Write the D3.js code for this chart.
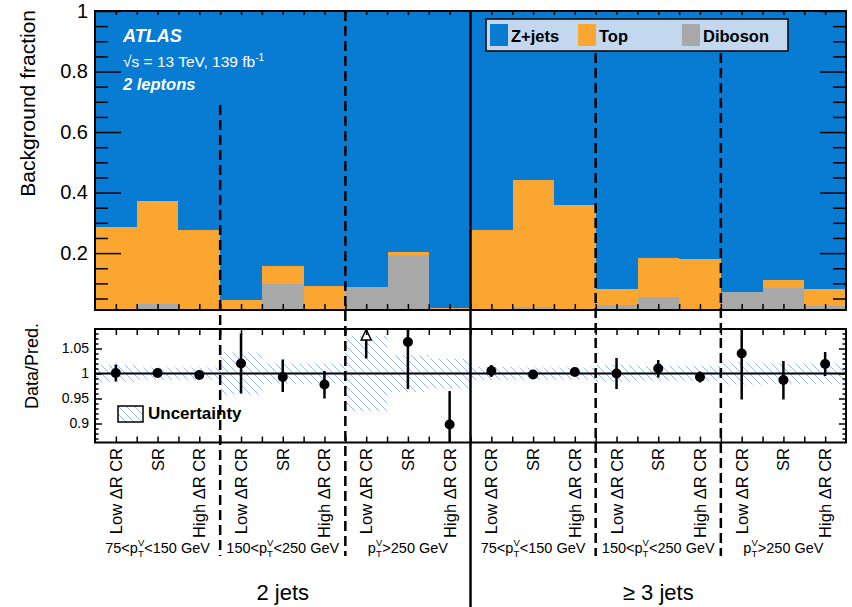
<!DOCTYPE html>
<html>
<head>
<meta charset="utf-8">
<script src="https://cdn.jsdelivr.net/npm/d3@7"></script>
<style>
  html, body { margin: 0; padding: 0; background: #fff; }
  svg { display: block; font-family: "Liberation Sans", Arial, Helvetica, sans-serif; }
</style>
</head>
<body>
<svg id="chart" width="852" height="607"></svg>
<script>
// ---------------- DATA ----------------
const regionLabels = ["Low \u0394R CR", "SR", "High \u0394R CR"];
const ptPrefix = ["75<", "150<", ""];
const ptSuffix = ["<150 GeV", "<250 GeV", ">250 GeV"];
const jetLabels = ["2 jets", "\u2265 3 jets"];
const categories = d3.range(18).map(i => `${jetLabels[Math.floor(i / 9)]} | ${ptPrefix[Math.floor(i / 3) % 3]}pTV${ptSuffix[Math.floor(i / 3) % 3]} | ${regionLabels[i % 3]}`);

// background fractions
const dibosonFrac = [0.008, 0.031, 0.008, 0.008, 0.099, 0.008, 0.087, 0.194, 0.006,
                     0.008, 0.021, 0.009, 0.029, 0.056, 0.009, 0.072, 0.086, 0.026];
const topFrac     = [0.279, 0.341, 0.268, 0.037, 0.060, 0.084, 0.001, 0.009, 0.011,
                     0.267, 0.421, 0.350, 0.053, 0.127, 0.172, 0.001, 0.026, 0.056];
const zjetsFrac = dibosonFrac.map((d, i) => 1 - d - topFrac[i]);

// data / prediction
const ratioVal = [1.001, 1.001, 0.997, 1.020, 0.993, 0.978, 1.120, 1.063, 0.898,
                  1.005, 0.998, 1.003, 1.000, 1.010, 0.993, 1.040, 0.987, 1.019];
const ratioErrUp = [0.017, 0.004, 0.006, 0.060, 0.035, 0.027, 0.000, 0.030, 0.067,
                    0.012, 0.004, 0.004, 0.031, 0.017, 0.011, 0.050, 0.038, 0.024];
const ratioErrDn = [0.017, 0.004, 0.006, 0.060, 0.030, 0.028, 0.090, 0.094, 0.040,
                    0.012, 0.004, 0.004, 0.031, 0.018, 0.011, 0.092, 0.039, 0.024];
const predUnc = [0.017, 0.012, 0.012, 0.042, 0.020, 0.020, 0.075, 0.037, 0.030,
                 0.013, 0.012, 0.012, 0.017, 0.015, 0.015, 0.022, 0.020, 0.020];

const fracTicks = [0.2, 0.4, 0.6, 0.8, 1];
const ratioTicks = [0.9, 0.95, 1, 1.05];

// ---------------- LAYOUT ----------------
const L = 95, R = 846, T1 = 11, B1 = 310, T2 = 329, B2 = 442.5;
const FONT = '"Liberation Sans", Arial, Helvetica, sans-serif';
const col = { zjets: "#087cd2", top: "#fba630", diboson: "#a8a8a8" };

const svg = d3.select("#chart");
const x = d3.scaleLinear().domain([0, 18]).range([L, R]);
const y = d3.scaleLinear().domain([0.012, 1]).range([B1, T1]);
const yr = d3.scaleLinear().domain([0.862, 1.089]).range([B2, T2]);

const defs = svg.append("defs");
defs.append("clipPath").attr("id", "clipTop").append("rect")
  .attr("x", L).attr("y", T1).attr("width", R - L).attr("height", B1 - T1);
defs.append("clipPath").attr("id", "clipRat").append("rect")
  .attr("x", L).attr("y", T2).attr("width", R - L).attr("height", B2 - T2);
const pat = defs.append("pattern").attr("id", "hatch").attr("patternUnits", "userSpaceOnUse")
  .attr("width", 8).attr("height", 8);
pat.append("path").attr("d", "M-2,-2 L10,10 M-2,6 L2,10 M6,-2 L10,2")
  .attr("stroke", "#6e9af4").attr("stroke-width", 0.7).attr("fill", "none");

// ---------------- TOP PANEL ----------------
const table = d3.range(18).map(i => ({ i, diboson: dibosonFrac[i], top: topFrac[i], zjets: zjetsFrac[i] }));
const stack = d3.stack().keys(["diboson", "top", "zjets"])(table);
const gTop = svg.append("g").attr("clip-path", "url(#clipTop)");
gTop.append("rect").attr("x", L).attr("y", T1).attr("width", R - L).attr("height", B1 - T1).attr("fill", col.zjets);
gTop.selectAll("g.layer").data(stack).join("g").attr("class", "layer")
  .attr("fill", d => col[d.key])
  .selectAll("rect").data(d => d).join("rect")
  .attr("shape-rendering", "crispEdges")
  .attr("x", d => x(d.data.i))
  .attr("width", d => x(d.data.i + 1) - x(d.data.i) + 0.5)
  .attr("y", d => y(d[1]))
  .attr("height", d => Math.max(0, y(d[0]) - y(d[1])));

// ---------------- RATIO PANEL ----------------
const gRat = svg.append("g").attr("clip-path", "url(#clipRat)");
gRat.selectAll("rect.band").data(predUnc).join("rect").attr("class", "band")
  .attr("x", (d, i) => x(i)).attr("width", (d, i) => x(i + 1) - x(i))
  .attr("y", d => yr(1 + d)).attr("height", d => yr(1 - d) - yr(1 + d))
  .attr("fill", "url(#hatch)");

gRat.append("line").attr("x1", L).attr("x2", R).attr("y1", yr(1)).attr("y2", yr(1))
  .attr("stroke", "#000").attr("stroke-width", 2);

const inRange = d => d <= yr.domain()[1];
const pts = d3.range(18).map(i => ({ i, v: ratioVal[i], up: ratioErrUp[i], dn: ratioErrDn[i] }));
gRat.selectAll("line.err").data(pts.filter(p => inRange(p.v))).join("line").attr("class", "err")
  .attr("x1", p => x(p.i + 0.5)).attr("x2", p => x(p.i + 0.5))
  .attr("y1", p => yr(p.v + p.up)).attr("y2", p => yr(p.v - p.dn))
  .attr("stroke", "#000").attr("stroke-width", 2.5);
gRat.selectAll("circle.pt").data(pts.filter(p => inRange(p.v))).join("circle").attr("class", "pt")
  .attr("cx", p => x(p.i + 0.5)).attr("cy", p => yr(p.v)).attr("r", 5).attr("fill", "#000");

// off-scale points: arrow
const off = pts.filter(p => !inRange(p.v));
off.forEach(p => {
  const cx = x(p.i + 0.5);
  gRat.append("line").attr("x1", cx).attr("x2", cx)
    .attr("y1", yr(p.v - p.dn)).attr("y2", T2 + 11)
    .attr("stroke", "#000").attr("stroke-width", 2.5);
  gRat.append("path").attr("d", `M${cx},${T2 + 0.5} L${cx - 5},${T2 + 11} L${cx + 5},${T2 + 11} Z`)
    .attr("fill", "#fff").attr("stroke", "#000").attr("stroke-width", 1.5);
});

// ---------------- AXES ----------------
function styleAxis(g) {
  g.select(".domain").remove();
  g.selectAll(".tick line").attr("stroke", "#000").attr("stroke-width", 1.5);
}
const fracMinor = d3.range(0.05, 1, 0.05).filter(v => Math.abs(v * 5 - Math.round(v * 5)) > 1e-6);
svg.append("g").attr("transform", `translate(${L},0)`)
  .call(d3.axisLeft(y).tickValues(fracTicks).tickSize(-26).tickPadding(7).tickFormat(d => d === 1 ? "1" : d3.format(".1f")(d)))
  .call(styleAxis)
  .call(g => g.selectAll("text").attr("font-size", 20).attr("fill", "#000").attr("font-family", FONT));
svg.append("g").attr("transform", `translate(${L},0)`)
  .call(d3.axisLeft(y).tickValues(fracMinor).tickSize(-13).tickFormat(""))
  .call(styleAxis);
svg.append("g").attr("transform", `translate(${R},0)`)
  .call(d3.axisRight(y).tickValues(fracTicks).tickSize(-26).tickFormat(""))
  .call(styleAxis);
svg.append("g").attr("transform", `translate(${R},0)`)
  .call(d3.axisRight(y).tickValues(fracMinor).tickSize(-13).tickFormat(""))
  .call(styleAxis);

const ratioMinor = d3.range(0.87, 1.09, 0.01).map(v => +v.toFixed(2)).filter(v => !ratioTicks.some(t => Math.abs(t - v) < 1e-6));
svg.append("g").attr("transform", `translate(${L},0)`)
  .call(d3.axisLeft(yr).tickValues(ratioTicks).tickSize(-7).tickPadding(6).tickFormat(d => d === 1 ? "1" : String(d)))
  .call(styleAxis)
  .call(g => g.selectAll("text").attr("font-size", 14).attr("fill", "#000").attr("font-family", FONT));
svg.append("g").attr("transform", `translate(${L},0)`)
  .call(d3.axisLeft(yr).tickValues(ratioMinor).tickSize(-3.5).tickFormat(""))
  .call(styleAxis);
svg.append("g").attr("transform", `translate(${R},0)`)
  .call(d3.axisRight(yr).tickValues(ratioTicks).tickSize(-7).tickFormat(""))
  .call(styleAxis);
svg.append("g").attr("transform", `translate(${R},0)`)
  .call(d3.axisRight(yr).tickValues(ratioMinor).tickSize(-3.5).tickFormat(""))
  .call(styleAxis);

const xTicks = d3.range(0.5, 18, 0.5);
[[B1, "bottom", 6], [T1, "top", 4], [B2, "bottom", 6], [T2, "top", 6]].forEach(([yy, side, len]) => {
  const ax = side === "bottom" ? d3.axisTop(x) : d3.axisBottom(x);
  svg.append("g").attr("transform", `translate(0,${yy})`)
    .call(ax.tickValues(xTicks).tickSize(len).tickFormat(""))
    .call(styleAxis);
});

[[T1, B1], [T2, B2]].forEach(([t, b]) => {
  svg.append("rect").attr("x", L).attr("y", t).attr("width", R - L).attr("height", b - t)
    .attr("fill", "none").attr("stroke", "#000").attr("stroke-width", 2);
});

// ---------------- SEPARATORS ----------------
const seps = [
  { edge: 3, y0: 105 },
  { edge: 6, y0: T1 },
  { edge: 12, y0: 53 },
  { edge: 15, y0: 53 }
];
seps.forEach(s => {
  svg.append("line").attr("x1", x(s.edge)).attr("x2", x(s.edge))
    .attr("y1", s.y0).attr("y2", 556)
    .attr("stroke", "#000").attr("stroke-width", 2.5).attr("stroke-dasharray", "10,5");
});
svg.append("line").attr("x1", x(9)).attr("x2", x(9)).attr("y1", T1).attr("y2", 607)
  .attr("stroke", "#000").attr("stroke-width", 2.5);

// ---------------- TEXT ----------------
svg.append("text").attr("x", 123).attr("y", 42).attr("fill", "#fff")
  .attr("font-size", 18).attr("font-weight", "bold").attr("font-style", "italic").text("ATLAS");
const en = svg.append("text").attr("x", 123).attr("y", 67).attr("fill", "#fff").attr("font-size", 15.5);
en.append("tspan").text("\u221As = 13 TeV, 139 fb");
en.append("tspan").attr("dy", -6).attr("font-size", 10).text("-1");
svg.append("text").attr("x", 123).attr("y", 90).attr("fill", "#fff")
  .attr("font-size", 16.5).attr("font-weight", "bold").attr("font-style", "italic").text("2 leptons");

const leg = svg.append("g");
leg.append("rect").attr("x", 486).attr("y", 19).attr("width", 302).attr("height", 32)
  .attr("fill", "#c3d8ef").attr("stroke", "#000").attr("stroke-width", 1.5);
const legItems = [["zjets", "Z+jets", 490], ["top", "Top", 578], ["diboson", "Diboson", 682]];
legItems.forEach(([k, lbl, lx]) => {
  leg.append("rect").attr("x", lx).attr("y", 24).attr("width", 18).attr("height", 22).attr("fill", col[k]);
  leg.append("text").attr("x", lx + 21).attr("y", 42).attr("font-size", 16.5).attr("font-weight", "bold")
    .attr("fill", "#000").text(lbl);
});

svg.append("rect").attr("x", 118).attr("y", 406).attr("width", 25).attr("height", 16)
  .attr("fill", "url(#hatch)").attr("stroke", "#000").attr("stroke-width", 1.5);
svg.append("text").attr("x", 148).attr("y", 419).attr("font-size", 17).attr("font-weight", "bold")
  .attr("fill", "#000").text("Uncertainty");

svg.append("text").attr("transform", "translate(35,10) rotate(-90)").attr("text-anchor", "end")
  .attr("font-size", 21).attr("fill", "#000").text("Background fraction");
svg.append("text").attr("transform", "translate(38,323) rotate(-90)").attr("text-anchor", "end")
  .attr("font-size", 18).attr("fill", "#000").text("Data/Pred.");

svg.selectAll("text.bin").data(d3.range(18)).join("text").attr("class", "bin")
  .attr("transform", i => `translate(${x(i + 0.5) + 6},448) rotate(-90)`)
  .attr("text-anchor", "end").attr("font-size", 16.5).attr("fill", "#000")
  .text(i => regionLabels[i % 3]);

d3.range(6).forEach(g => {
  const k = g % 3;
  const t = svg.append("text").attr("x", x(g * 3 + 1.5)).attr("y", 553)
    .attr("text-anchor", "middle").attr("font-size", 14.5).attr("fill", "#000");
  t.append("tspan").text(ptPrefix[k] + "p");
  t.append("tspan").attr("dy", 4).attr("font-size", 9.5).text("T");
  t.append("tspan").attr("dx", -5.8).attr("dy", -11).attr("font-size", 9.5).text("V");
  t.append("tspan").attr("dy", 7).text(ptSuffix[k]);
});

jetLabels.forEach((lbl, j) => {
  svg.append("text").attr("x", x(j * 9 + 4.5)).attr("y", 600).attr("text-anchor", "middle")
    .attr("font-size", 22).attr("fill", "#000").text(lbl);
});
</script>
</body>
</html>
